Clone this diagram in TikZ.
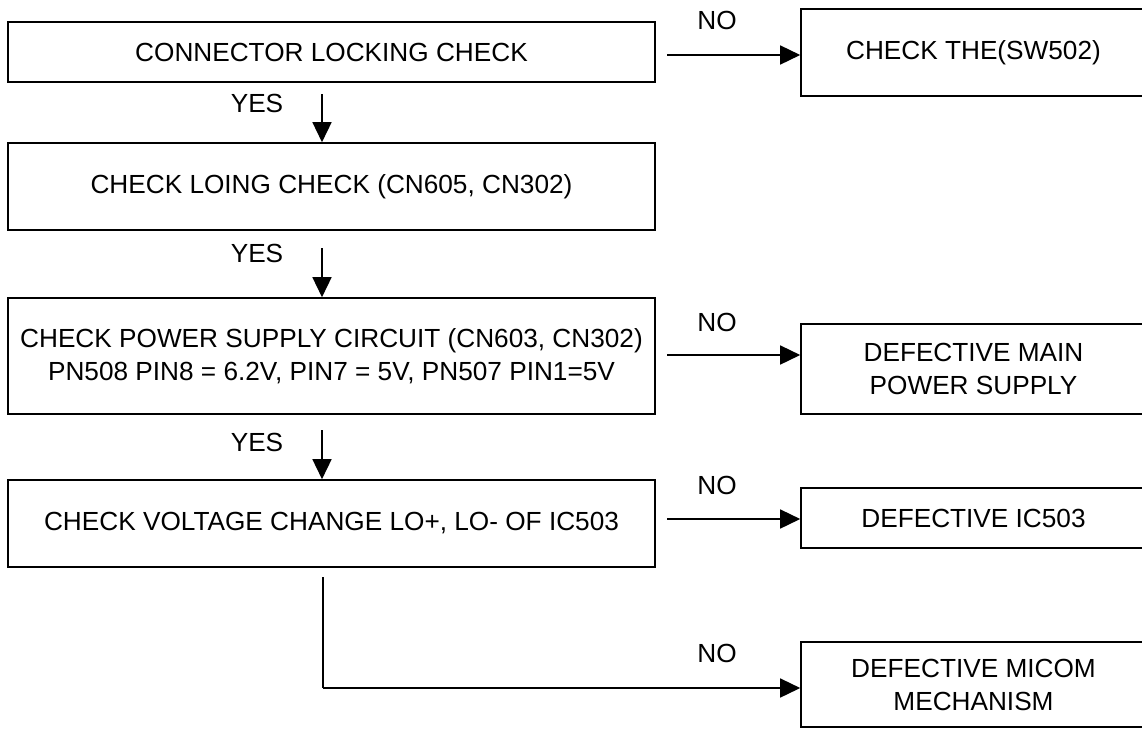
\documentclass[tikz,border=0pt]{standalone}
\usepackage{fontspec}
\setmainfont{Liberation Sans}
\usetikzlibrary{arrows.meta,calc}
\begin{document}
\begin{tikzpicture}[x=1pt,y=-1pt,
  box/.style={draw,line width=1.6pt,rectangle,inner sep=0pt,align=center,
    font=\fontsize{26.2}{33}\selectfont},
  lbl/.style={font=\fontsize{26.2}{33}\selectfont,inner sep=0pt},
  arr/.style={line width=1.5pt,-{Triangle[length=20pt,width=19pt]}},
  ln/.style={line width=1.5pt}]
\useasboundingbox (0,0) rectangle (1142,729);
% left column boxes
\node[box,minimum width=647pt,minimum height=60pt] (b1) at (331.5,52) {CONNECTOR LOCKING CHECK};
\node[box,minimum width=647pt,minimum height=87pt] (b2) at (331.5,186.5) {CHECK LOING CHECK (CN605, CN302)};
\node[box,minimum width=647pt,minimum height=116pt] (b3) at (331.5,356) {CHECK POWER SUPPLY CIRCUIT (CN603, CN302)\\PN508 PIN8 = 6.2V, PIN7 = 5V, PN507 PIN1=5V};
\node[box,minimum width=647pt,minimum height=87pt] (b4) at (331.5,523.5) {CHECK VOLTAGE CHANGE LO+, LO- OF IC503};
% right column boxes
\node[box,minimum width=345pt,minimum height=87pt] (r1) at (973.5,52.5) {CHECK THE(SW502)};
\node[box,minimum width=345pt,minimum height=90pt] (r2) at (973.5,369) {DEFECTIVE MAIN\\POWER SUPPLY};
\node[box,minimum width=345pt,minimum height=60pt] (r3) at (973.5,518) {DEFECTIVE IC503};
\node[box,minimum width=345pt,minimum height=85pt] (r4) at (973.5,684.5) {DEFECTIVE MICOM\\MECHANISM};
% YES arrows
\coordinate (y1) at (322,94);
\coordinate (y2) at (322,248);
\coordinate (y3) at (322,430);
\draw[arr] (y1) -- (y1 |- b2.north);
\draw[arr] (y2) -- (y2 |- b3.north);
\draw[arr] (y3) -- (y3 |- b4.north);
\node[lbl] (t1) at (257,103) {YES};
\node[lbl] (t2) at (257,253) {YES};
\node[lbl] (t3) at (257,442) {YES};
% NO arrows
\coordinate (n1) at (667,55);
\coordinate (n2) at (667,355);
\coordinate (n3) at (667,519);
\draw[arr] (n1) -- (n1 -| r1.west);
\draw[arr] (n2) -- (n2 -| r2.west);
\draw[arr] (n3) -- (n3 -| r3.west);
\node[lbl] (o1) at (717,20) {NO};
\node[lbl] (o2) at (717,322) {NO};
\node[lbl] (o3) at (717,485) {NO};
% bottom branch
\coordinate (m1) at (323,577);
\coordinate (m2) at (323,688);
\draw[ln] (m1) -- (m2);
\draw[arr] (m2) -- (m2 -| r4.west);
\node[lbl] (o4) at (717,653) {NO};
\end{tikzpicture}
\end{document}
